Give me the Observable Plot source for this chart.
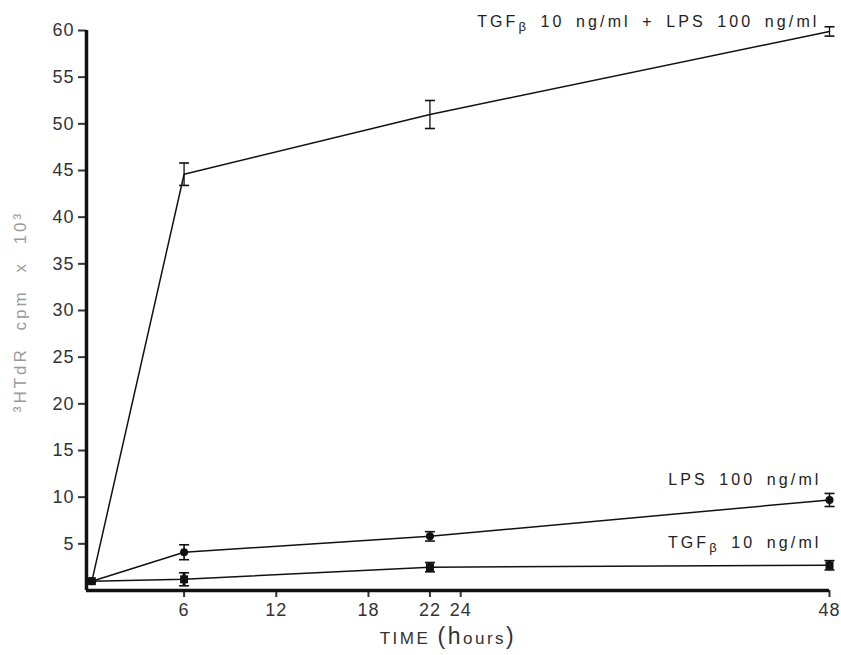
<!DOCTYPE html>
<html>
<head>
<meta charset="utf-8">
<script src="https://cdn.jsdelivr.net/npm/d3@7"></script>
<script src="https://cdn.jsdelivr.net/npm/@observablehq/plot@0.6"></script>
<style>
  html, body { margin: 0; padding: 0; background: #fff; }
  #chart svg { display: block; }
</style>
</head>
<body>
<div id="chart"></div>
<script>
// Time course of 3H-thymidine incorporation (cpm x 10^3)
const hours = [0, 6, 22, 48];
const seriesNames = ["TGFβ 10 ng/ml + LPS 100 ng/ml", "LPS 100 ng/ml", "TGFβ 10 ng/ml"];
const comboValues = [1.0, 44.6, 51.0, 59.9];
const comboErrors = [0, 1.2, 1.5, 0.5];
const lpsValues = [1.0, 4.1, 5.8, 9.7];
const lpsErrors = [0, 0.8, 0.5, 0.7];
const tgfValues = [1.0, 1.2, 2.5, 2.7];
const tgfErrors = [0, 0.7, 0.5, 0.5];
const xTicks = [6, 12, 18, 22, 24, 48];
const yTicks = [5, 10, 15, 20, 25, 30, 35, 40, 45, 50, 55, 60];
const xDomain = [-0.35, 48];
const yDomain = [0, 60];
const xLabel = "TIME (hours)";
const yLabel = "³HTdR cpm x 10³";

const series = [
  {name: seriesNames[0], values: comboValues, errors: comboErrors, marker: null, dy: -10, dx: -10, errWidth: 1.3},
  {name: seriesNames[1], values: lpsValues, errors: lpsErrors, marker: "circle", dy: -20, dx: -8, errWidth: 1.6},
  {name: seriesNames[2], values: tgfValues, errors: tgfErrors, marker: "square", dy: -22, dx: -8, errWidth: 3}
];

const rows = series.flatMap(s => hours.map((h, i) => ({
  series: s.name, hour: h, value: s.values[i], err: s.errors[i],
  lo: s.values[i] - s.errors[i], hi: s.values[i] + s.errors[i]
})));

// horizontal cap drawn at each error-bar end
const cap = {draw(context, size) {
  const w = 5;
  context.moveTo(-w, 0);
  context.lineTo(w, 0);
}};

const ink = "#111";
const marks = [];

for (const s of series) {
  const data = rows.filter(d => d.series === s.name);
  const bars = data.filter(d => d.err > 0);
  marks.push(Plot.line(data, {x: "hour", y: "value", stroke: ink, strokeWidth: 1.5}));
  marks.push(Plot.ruleX(bars, {x: "hour", y1: "lo", y2: "hi", stroke: ink, strokeWidth: s.errWidth}));
  marks.push(Plot.dot(bars, {x: "hour", y: "lo", symbol: cap, r: 5, stroke: ink, strokeWidth: 1.6, fill: "none"}));
  marks.push(Plot.dot(bars, {x: "hour", y: "hi", symbol: cap, r: 5, stroke: ink, strokeWidth: 1.6, fill: "none"}));
  if (s.marker === "circle") {
    marks.push(Plot.dot(data, {x: "hour", y: "value", symbol: "circle", r: 4, fill: ink, stroke: "none"}));
  } else if (s.marker === "square") {
    marks.push(Plot.dot(data, {x: "hour", y: "value", symbol: "square", r: 4.5, fill: ink, stroke: "none"}));
  }
  const last = data[data.length - 1];
  marks.push(Plot.text([last], {
    x: "hour", y: "value", text: "series", textAnchor: "end",
    dx: s.dx, dy: s.dy, fontSize: 16, fill: "#222",
    fontFamily: "Liberation Sans, Arial, sans-serif"
  }));
}

const plot = Plot.plot({
  width: 841,
  height: 655,
  marginLeft: 86,
  marginRight: 12,
  marginTop: 30,
  marginBottom: 65,
  style: {fontFamily: "Liberation Sans, Arial, sans-serif", background: "#fff"},
  x: {domain: xDomain, axis: null},
  y: {domain: yDomain, axis: null},
  marks: [
    Plot.axisX({ticks: xTicks, tickSize: 7, tickPadding: 6, tickFormat: d => String(d),
      fontSize: 18, color: "#333", strokeWidth: 2, label: null}),
    Plot.axisY({ticks: yTicks, tickSize: 8, tickPadding: 4, tickFormat: d => String(d),
      fontSize: 18, color: "#333", strokeWidth: 2, label: null}),
    ...marks,
    Plot.ruleX([xDomain[0]], {stroke: ink, strokeWidth: 3.5}),
    Plot.ruleY([yDomain[0]], {stroke: ink, strokeWidth: 3.5}),
    Plot.text([xLabel], {frameAnchor: "bottom", dx: -10, dy: 53, text: d => d, fontSize: 17, fill: "#333"}),
    Plot.text([yLabel], {frameAnchor: "left", textAnchor: "middle", dx: -66, dy: 1, rotate: -90,
      text: d => d, fontSize: 17, fill: "#9a9a9a"})
  ]
});

document.getElementById("chart").appendChild(plot);

// typographic touches: wide letter spacing, subscript β, larger "h"
const svg = d3.select(plot);
svg.selectAll("text").each(function() {
  const t = this.textContent;
  const el = d3.select(this);
  if (seriesNames.includes(t)) {
    el.attr("letter-spacing", "3.1px").attr("word-spacing", "4px").text(null);
    const parts = t.split("β");
    parts.forEach((p, i) => {
      if (i > 0) el.append("tspan").attr("font-size", "13px").attr("dy", "4").text("β");
      el.append("tspan").attr("dy", i > 0 ? "-4" : null).text(p);
    });
  } else if (t === xLabel) {
    el.text(null).attr("letter-spacing", "2.5px");
    el.append("tspan").text("TIME ");
    el.append("tspan").attr("font-size", "23px").text("(h");
    el.append("tspan").text("ours");
    el.append("tspan").attr("font-size", "23px").text(")");
  } else if (t === yLabel) {
    el.attr("letter-spacing", "3px").attr("word-spacing", "9px");
  } else if (/^\d+$/.test(t)) {
    el.attr("letter-spacing", "1px");
  }
});
</script>
</body>
</html>
